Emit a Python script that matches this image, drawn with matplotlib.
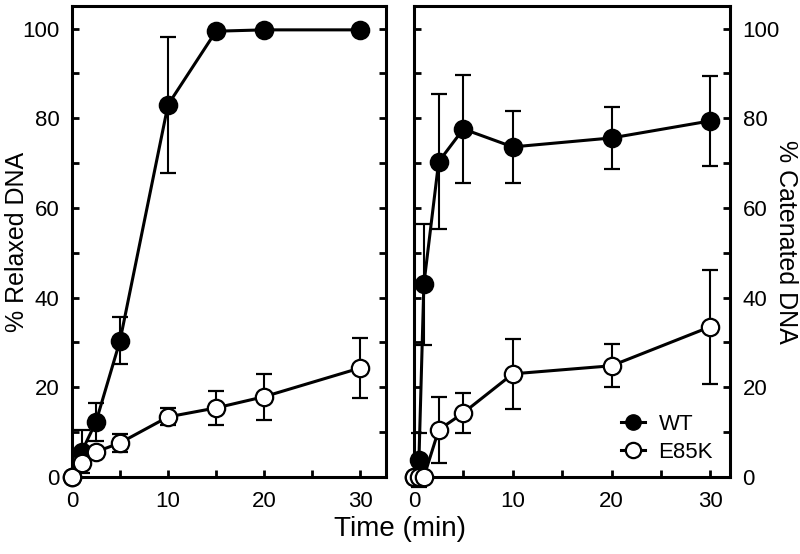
# Relaxation and catenation time courses for WT and E85K

import matplotlib.pyplot as plt
from matplotlib.lines import Line2D
from matplotlib.ticker import MultipleLocator

plt.rcParams["font.family"] = ["Liberation Sans", "DejaVu Sans"]

# Relaxation (left panel)
relax_wt_time = [0, 1, 2.5, 5, 10, 15, 20, 30]
relax_wt = [0, 5.6, 12.3, 30.4, 83.0, 99.4, 99.7, 99.7]
relax_wt_err = [0, 4.8, 4.2, 5.2, 15.2, 0, 0, 0]
relax_mut_time = [0, 1, 2.5, 5, 10, 15, 20, 30]
relax_mut = [0, 3.1, 5.6, 7.6, 13.4, 15.4, 17.9, 24.3]
relax_mut_err = [0, 0, 0, 2.0, 1.9, 3.7, 5.1, 6.7]

# Catenation (right panel)
cat_wt_time = [0, 0.5, 1, 2.5, 5, 10, 20, 30]
cat_wt = [0, 3.8, 43.0, 70.3, 77.6, 73.6, 75.6, 79.4]
cat_wt_err = [0, 6.0, 13.5, 15.0, 12.0, 8.0, 7.0, 10.1]
cat_mut_time = [0, 0.5, 1, 2.5, 5, 10, 20, 30]
cat_mut = [0, 0, 0, 10.5, 14.3, 23.0, 24.8, 33.5]
cat_mut_err = [0, 0, 0, 7.4, 4.4, 7.8, 4.8, 12.7]

fig = plt.figure(figsize=(8, 5.54), dpi=100)
ax_rel = fig.add_axes([0.09, 0.139, 0.3925, 0.85])
ax_cat = fig.add_axes([0.5175, 0.139, 0.395, 0.85])

line_kw = dict(color="black", linewidth=2.2, markersize=12.5, markeredgewidth=1.6,
               elinewidth=1.5, capsize=6, capthick=1.5, clip_on=False)


def draw(ax, t_wt, wt, wt_err, t_mut, mut, mut_err):
    ax.errorbar(t_wt, wt, yerr=wt_err, marker="o", markerfacecolor="black",
                markeredgecolor="black", zorder=3, **line_kw)
    ax.errorbar(t_mut, mut, yerr=mut_err, marker="o", markerfacecolor="white",
                markeredgecolor="black", zorder=4, **line_kw)
    ax.set_ylim(0, 105)
    ax.yaxis.set_major_locator(MultipleLocator(20))
    ax.yaxis.set_minor_locator(MultipleLocator(10))
    ax.xaxis.set_major_locator(MultipleLocator(10))
    ax.xaxis.set_minor_locator(MultipleLocator(5))
    ax.tick_params(which="both", direction="in", width=2, length=5,
                   left=True, right=True, top=False, labelsize=16)
    ax.tick_params(axis="y", pad=9)
    ax.tick_params(axis="x", pad=10)
    for s in ax.spines.values():
        s.set_linewidth(2.2)


draw(ax_rel, relax_wt_time, relax_wt, relax_wt_err,
     relax_mut_time, relax_mut, relax_mut_err)
draw(ax_cat, cat_wt_time, cat_wt, cat_wt_err,
     cat_mut_time, cat_mut, cat_mut_err)

ax_rel.set_xlim(0, 32.7)
ax_cat.set_xlim(0, 32.0)
ax_cat.tick_params(axis="y", labelleft=False, labelright=True)

# Axis titles placed in figure coordinates
fig.text(0.021, 0.564, "% Relaxed DNA", rotation=90, ha="center", va="center",
         fontsize=18)
fig.text(0.982, 0.564, "% Catenated DNA", rotation=270, ha="center", va="center",
         fontsize=18)
fig.text(0.5, 0.022, "Time (min)", ha="center", va="bottom", fontsize=20)

handles = [
    Line2D([], [], color="black", linewidth=2.2, marker="o", markersize=11,
           markerfacecolor="black", markeredgecolor="black"),
    Line2D([], [], color="black", linewidth=2.2, marker="o", markersize=11,
           markerfacecolor="white", markeredgecolor="black", markeredgewidth=1.6),
]
ax_cat.legend(handles, ["WT", "E85K"], loc="lower right",
              bbox_to_anchor=(0.946, 0.03), frameon=False, borderpad=0,
              borderaxespad=0, fontsize=16, handlelength=1.1,
              handletextpad=0.6, labelspacing=0.3)

fig.savefig("out.png", dpi=100)
